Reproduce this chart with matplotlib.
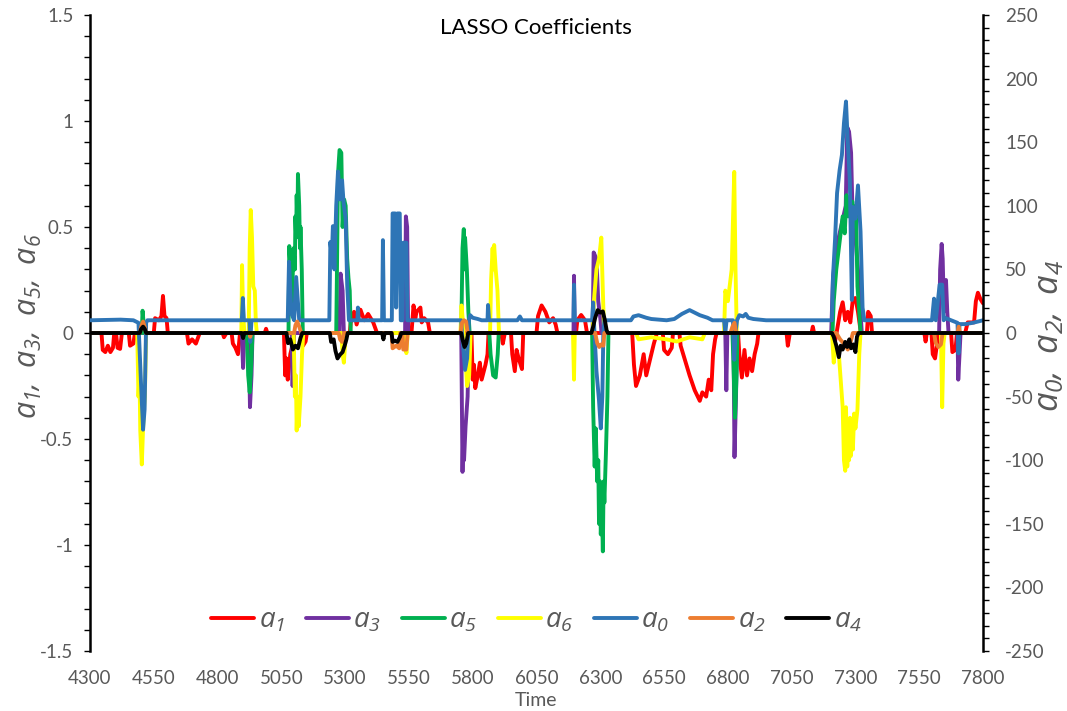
"""
LASSO coefficients over time, two y axes (Excel style)
"""

import matplotlib
matplotlib.use("Agg")
import matplotlib.pyplot as plt
from matplotlib.ticker import MultipleLocator, FuncFormatter

plt.rcParams["font.family"] = ["Lato", "DejaVu Sans"]
plt.rcParams["mathtext.fontset"] = "custom"
plt.rcParams["mathtext.it"] = "Open Sans:italic"
plt.rcParams["mathtext.rm"] = "Open Sans:italic"

GREY = "#595959"

# (time, value); left axis series
A1 = [(4300, 0), (4345, 0), (4350, -0.08), (4360, -0.09), (4370, -0.06), (4380, -0.09),
      (4390, -0.07), (4395, 0), (4402, 0), (4408, -0.07), (4418, -0.075), (4425, 0),
      (4452, 0), (4457, -0.06), (4470, -0.05), (4476, 0), (4550, 0), (4555, 0.07),
      (4570, 0.06), (4580, 0.08), (4586, 0.175), (4592, 0.08), (4600, 0.07), (4605, 0),
      (4680, 0), (4686, -0.05), (4700, -0.03), (4715, -0.05), (4730, 0), (4820, 0),
      (4825, -0.02), (4835, 0), (4855, 0), (4860, -0.05), (4870, -0.07), (4880, -0.1),
      (4888, 0), (4985, 0), (4990, 0.02), (4995, 0), (5060, 0), (5065, -0.2),
      (5070, -0.12), (5075, -0.22), (5085, -0.1), (5095, -0.05), (5100, 0), (5130, 0),
      (5135, -0.06), (5145, -0.04), (5150, 0), (5318, 0), (5322, 0.05), (5335, 0.1),
      (5345, 0.04), (5360, 0.11), (5375, 0.06), (5390, 0.09), (5410, 0.05), (5425, 0),
      (5560, 0), (5568, 0.13), (5575, 0.07), (5580, 0.1), (5595, 0.12), (5600, 0.05),
      (5610, 0.07), (5625, 0.05), (5632, 0), (5795, 0), (5800, -0.22), (5805, -0.15),
      (5810, -0.26), (5820, -0.2), (5828, -0.14), (5835, -0.22), (5850, -0.15),
      (5858, -0.1), (5862, 0), (5912, 0), (5918, -0.05), (5926, 0), (5950, 0),
      (5955, -0.1), (5965, -0.18), (5972, -0.08), (5980, -0.12), (5993, -0.17),
      (5998, 0), (6050, 0), (6056, 0.08), (6070, 0.13), (6085, 0.1), (6100, 0.05),
      (6115, 0.07), (6125, 0.04), (6132, 0), (6205, 0), (6210, 0.06), (6225, 0.085),
      (6240, 0.06), (6248, 0), (6425, 0), (6432, -0.15), (6440, -0.25), (6455, -0.2),
      (6470, -0.1), (6480, -0.2), (6490, -0.15), (6510, -0.05), (6522, 0), (6545, 0),
      (6550, -0.08), (6565, -0.1), (6580, -0.07), (6585, 0), (6610, 0), (6615, -0.06),
      (6630, -0.12), (6650, -0.2), (6670, -0.27), (6690, -0.32), (6700, -0.28),
      (6715, -0.3), (6725, -0.22), (6735, -0.27), (6742, -0.1), (6750, -0.03),
      (6756, 0), (6840, 0), (6845, -0.1), (6855, -0.21), (6865, -0.08), (6875, -0.2),
      (6885, -0.12), (6895, -0.18), (6905, -0.1), (6915, -0.05), (6920, 0), (7030, 0),
      (7035, -0.06), (7043, 0), (7128, 0), (7133, 0.03), (7138, 0), (7212, 0),
      (7220, -0.04), (7226, 0), (7240, 0.1), (7250, 0.145), (7260, 0.06), (7270, 0.1),
      (7280, 0.05), (7290, 0.16), (7300, 0.165), (7310, 0.1), (7318, 0.03), (7322, 0),
      (7345, 0), (7350, 0.1), (7360, 0.08), (7365, 0), (7570, 0), (7575, -0.04),
      (7580, 0), (7598, 0), (7603, -0.1), (7612, -0.12), (7620, -0.05), (7625, 0),
      (7675, 0), (7680, -0.09), (7692, -0.08), (7698, 0), (7730, 0), (7740, 0.05),
      (7765, 0.05), (7772, 0.15), (7780, 0.19), (7790, 0.16), (7800, 0.14)]

A3 = [(4300, 0), (4895, 0), (4900, -0.165), (4905, 0), (4922, 0), (4927, -0.35),
      (4933, -0.2), (4937, 0), (5090, 0), (5094, -0.25), (5100, 0), (5278, 0),
      (5282, 0.28), (5290, 0.2), (5295, 0), (5535, 0), (5538, 0.55), (5543, 0.5),
      (5547, 0), (5755, 0), (5760, -0.655), (5763, -0.45), (5766, -0.6), (5772, -0.44),
      (5780, -0.3), (5785, 0), (6195, 0), (6197, 0.27), (6200, 0), (6270, 0),
      (6274, 0.38), (6285, 0.35), (6292, 0.15), (6300, 0.07), (6305, 0), (6790, 0),
      (6794, -0.27), (6798, 0), (6822, 0), (6826, -0.585), (6832, -0.3), (6836, 0),
      (7205, 0), (7212, 0.26), (7225, 0.4), (7262, 0.6), (7268, 0.97), (7275, 0.95),
      (7283, 0.85), (7290, 0.5), (7300, 0.45), (7310, 0.3), (7320, 0.1), (7325, 0),
      (7628, 0), (7632, 0.3), (7638, 0.42), (7642, 0.35), (7647, 0.1), (7655, 0.25),
      (7660, 0.1), (7665, 0), (7700, 0), (7703, -0.22), (7708, -0.1), (7712, 0),
      (7800, 0)]

A5 = [(4300, 0), (4503, 0), (4506, 0.105), (4510, 0.05), (4513, 0), (4915, 0),
      (4920, -0.2), (4926, -0.28), (4932, -0.15), (4937, 0), (5078, 0), (5081, 0.41),
      (5086, 0.3), (5090, 0.1), (5098, 0.4), (5103, 0.3), (5105, 0.55), (5108, 0.45),
      (5110, 0.65), (5113, 0.5), (5115, 0.75), (5120, 0.6), (5123, 0.4), (5125, 0.5),
      (5130, 0.3), (5134, 0), (5265, 0), (5268, 0.3), (5272, 0.75), (5278, 0.863),
      (5285, 0.85), (5290, 0.5), (5296, 0.63), (5302, 0.6), (5308, 0.35), (5313, 0.26),
      (5318, 0.2), (5322, 0), (5755, 0), (5760, 0.4), (5765, 0.49), (5768, 0.3),
      (5770, 0.45), (5777, 0.3), (5783, 0.1), (5788, 0), (5865, 0), (5870, -0.1),
      (5880, -0.2), (5890, -0.21), (5898, -0.1), (5902, 0), (6268, 0), (6272, -0.35),
      (6278, -0.63), (6282, -0.45), (6288, -0.7), (6292, -0.6), (6295, -0.9),
      (6299, -0.7), (6302, -0.95), (6306, -0.8), (6310, -1.03), (6313, -0.7),
      (6316, -0.8), (6322, -0.57), (6328, -0.3), (6332, 0), (6818, 0), (6822, -0.15),
      (6828, -0.4), (6834, -0.2), (6838, 0), (7210, 0), (7215, 0.15), (7225, 0.3),
      (7240, 0.45), (7250, 0.55), (7258, 0.47), (7265, 0.65), (7272, 0.55),
      (7280, 0.6), (7288, 0.62), (7295, 0.5), (7302, 0.6), (7308, 0.22), (7315, 0.1),
      (7320, 0), (7800, 0)]

A6 = [(4300, 0), (4485, 0), (4490, -0.3), (4494, -0.2), (4497, -0.46), (4503, -0.62),
      (4508, -0.45), (4512, -0.35), (4515, -0.3), (4520, 0), (4893, 0), (4896, 0.32),
      (4900, 0.1), (4905, 0), (4922, 0), (4926, 0.4), (4930, 0.58), (4935, 0.45),
      (4940, 0.22), (4946, 0.2), (4950, 0.05), (4954, 0), (5098, 0), (5103, -0.3),
      (5107, -0.2), (5110, -0.46), (5114, -0.3), (5118, -0.44), (5125, -0.3),
      (5131, -0.1), (5136, 0), (5285, 0), (5290, -0.1), (5295, -0.14), (5300, -0.05),
      (5305, 0), (5535, 0), (5540, -0.095), (5545, 0), (5752, 0), (5756, 0.13),
      (5762, 0.05), (5770, -0.1), (5778, -0.25), (5786, -0.2), (5792, 0), (5868, 0),
      (5872, 0.25), (5878, 0.4), (5881, 0.3), (5884, 0.415), (5890, 0.3), (5897, 0.2),
      (5903, 0), (6193, 0), (6197, -0.22), (6200, 0), (6270, 0), (6275, 0.15),
      (6285, 0.3), (6295, 0.35), (6304, 0.45), (6310, 0.2), (6315, 0), (6440, 0),
      (6450, -0.03), (6500, -0.02), (6560, -0.03), (6600, -0.04), (6650, -0.02),
      (6700, -0.03), (6710, 0), (6785, 0), (6790, 0.2), (6800, 0.15), (6815, 0.3),
      (6825, 0.76), (6830, 0.3), (6835, 0), (7208, 0), (7215, -0.14), (7222, -0.05),
      (7235, -0.1), (7250, -0.35), (7255, -0.6), (7260, -0.65), (7263, -0.35),
      (7268, -0.63), (7272, -0.45), (7275, -0.6), (7279, -0.4), (7282, -0.58),
      (7286, -0.42), (7290, -0.55), (7295, -0.38), (7300, -0.45), (7308, -0.36),
      (7315, -0.1), (7320, 0), (7635, 0), (7640, -0.35), (7645, -0.05), (7650, 0),
      (7800, 0)]

# right axis series
A0 = [(4300, 10), (4420, 10.5), (4470, 10), (4490, 8), (4500, -40), (4508, -76),
      (4514, -60), (4520, 8), (4525, 10), (4895, 10), (4899, 27.5), (4903, 10),
      (4925, 10), (4928, -7), (4933, 10), (5075, 10), (5080, 56), (5086, 30),
      (5090, 15), (5100, 10), (5108, 44), (5113, 30), (5120, 10), (5238, 10),
      (5242, 71.5), (5248, 60), (5252, 84), (5258, 50), (5265, 100), (5272, 127),
      (5280, 105), (5288, 120), (5294, 102), (5302, 90), (5308, 38), (5315, 10),
      (5348, 10), (5350, 20), (5353, 10), (5445, 10), (5448, 73), (5452, 10),
      (5483, 10), (5486, 94), (5496, 94), (5500, 20), (5505, 94), (5514, 94),
      (5518, 10), (5525, 10), (5528, 71), (5540, 71), (5544, 10), (5755, 10),
      (5758, 0), (5762, -10), (5770, -29), (5778, -20), (5785, 10), (5790, 14),
      (5800, 12), (5820, 11), (5835, 10), (5858, 10), (5860, 22), (5864, 10),
      (5975, 10), (5985, 13), (5993, 10), (6195, 10), (6197, 38), (6200, 10),
      (6268, 10), (6272, 24), (6276, 5), (6285, -30), (6295, -53), (6302, -75),
      (6308, -50), (6312, 0), (6316, 10), (6420, 10), (6430, 13), (6450, 14),
      (6480, 12), (6500, 11), (6560, 10), (6590, 11), (6620, 15), (6650, 18),
      (6670, 16), (6690, 14), (6720, 12), (6740, 10), (6785, 10), (6790, 0),
      (6795, 10), (6820, 10), (6825, -21), (6830, 0), (6836, 10), (6845, 14),
      (6860, 13), (6870, 15), (6880, 12), (6900, 11), (6950, 10), (7208, 10),
      (7212, 44), (7220, 73), (7228, 110), (7238, 128), (7247, 140), (7255, 165),
      (7263, 182), (7270, 150), (7278, 120), (7286, 26), (7290, 99), (7300, 90),
      (7310, 116), (7320, 80), (7328, 20), (7335, 10), (7600, 10), (7608, 27),
      (7615, 10), (7630, 38), (7640, 38), (7646, 10), (7650, 12), (7700, 8),
      (7704, -16), (7708, 7), (7730, 7), (7760, 8), (7800, 10)]

A2 = [(4300, 0), (4495, 0), (4502, 6), (4508, 9), (4514, 5), (4520, 0), (4925, 0),
      (4928, -3), (4932, 0), (5100, 0), (5105, 6), (5112, 9), (5120, 5), (5128, 0),
      (5275, 0), (5280, -5), (5288, -7), (5295, 0), (5482, 0), (5486, -12),
      (5500, -10), (5512, -12), (5516, 0), (5525, 0), (5528, -13), (5540, -13),
      (5545, 0), (5752, 0), (5758, 8), (5766, 10), (5774, 9), (5780, 0), (6280, 0),
      (6288, -8), (6296, -11), (6304, -9), (6312, -10), (6316, 0), (6810, 0),
      (6818, 5), (6826, 8), (6832, 0), (7225, 0), (7240, -5), (7262, -10),
      (7270, -13), (7280, -8), (7290, 0), (7608, 0), (7615, -8), (7625, -11),
      (7635, -9), (7642, 0), (7700, 0), (7705, 5), (7710, 0), (7800, 0)]

A4 = [(4300, 0), (4495, 0), (4500, 3), (4508, 5), (4515, 3), (4520, 0), (4895, 0),
      (4900, -4), (4905, 0), (5070, 0), (5076, -8), (5085, -5), (5095, -13),
      (5105, -10), (5115, -12), (5125, -4), (5132, 0), (5240, 0), (5245, -7),
      (5255, -5), (5262, -14), (5270, -20), (5280, -17), (5290, -15), (5298, -10),
      (5305, -5), (5310, 0), (5445, 0), (5450, -5), (5455, 0), (5482, 0), (5486, -7),
      (5495, -6), (5505, -7), (5515, -3), (5520, 0), (5755, 0), (5760, -5),
      (5768, -11), (5775, -8), (5782, 0), (6265, 0), (6272, 5), (6280, 12),
      (6290, 18), (6300, 16), (6310, 17), (6318, 10), (6325, 2), (6330, 0),
      (7208, 0), (7215, -3), (7225, -10), (7235, -19), (7242, -10), (7250, -13),
      (7260, -7), (7268, -11), (7276, -5), (7283, -12), (7292, -9), (7300, -15),
      (7306, -3), (7312, 0), (7800, 0)]

LEFT_SERIES = [("a_1", A1, "#FF0000"), ("a_3", A3, "#7030A0"),
               ("a_5", A5, "#00B050"), ("a_6", A6, "#FFFF00")]
RIGHT_SERIES = [("a_0", A0, "#2E75B6"), ("a_2", A2, "#ED7D31"),
                ("a_4", A4, "#000000")]

X_TICKS = list(range(4300, 7801, 250))


def draw(ax, series):
    handles = []
    for name, pts, color in series:
        t = [p[0] for p in pts]
        v = [p[1] for p in pts]
        h, = ax.plot(t, v, color=color, lw=2.8, label=r"$\mathit{%s}$" % name,
                     solid_joinstyle="round", solid_capstyle="round")
        handles.append(h)
    return handles


def style_y(ax, side):
    ax.tick_params(axis="y", which="both", direction="out", length=4, width=1,
                   colors="black", labelcolor=GREY, labelsize=13.5, pad=8)
    for s in ["top", "bottom", "left", "right"]:
        ax.spines[s].set_visible(s == side)
    ax.spines[side].set_linewidth(1.8)
    # plain hyphen as minus, like the source
    ax.yaxis.set_major_formatter(FuncFormatter(lambda v, p: f"{v:g}"))


fig = plt.figure(figsize=(10.67, 7.11), dpi=100)
ax = fig.add_axes([90 / 1067, 60 / 711, 893 / 1067, 636 / 711])
ax2 = ax.twinx()

h1 = draw(ax, LEFT_SERIES)
h2 = draw(ax2, RIGHT_SERIES)

ax.set_xlim(4300, 7800)
ax.set_ylim(-1.5, 1.5)
ax2.set_ylim(-250, 250)

ax.set_xticks(X_TICKS)
ax.tick_params(axis="x", length=0, labelsize=13.5, labelcolor=GREY, pad=14)

ax.yaxis.set_major_locator(MultipleLocator(0.5))
ax.yaxis.set_minor_locator(MultipleLocator(0.1))
ax2.yaxis.set_major_locator(MultipleLocator(50))
ax2.yaxis.set_minor_locator(MultipleLocator(10))
style_y(ax, "left")
style_y(ax2, "right")
ax2.tick_params(axis="y", pad=12)

fig.text(536 / 1067, 1 - 28 / 711, "LASSO Coefficients", ha="center", va="center",
         fontsize=16, color="black")
fig.text(536 / 1067, 1 - 700 / 711, "Time", ha="center", va="center",
         fontsize=14, color=GREY)
fig.text(30 / 1067, 1 - 326 / 711, r"$\mathit{a_1,\ a_3,\ a_5,\ a_6}$",
         rotation=90, ha="center", va="center", fontsize=22, color=GREY)
fig.text(1050 / 1067, 1 - 336 / 711, r"$\mathit{a_0,\ a_2,\ a_4}$",
         rotation=90, ha="center", va="center", fontsize=25, color=GREY)

leg = ax2.legend(h1 + h2, [h.get_label() for h in h1 + h2], loc="lower center",
                 bbox_to_anchor=(0.5, 0.0), ncol=7, frameon=False, fontsize=20,
                 handlelength=1.55, columnspacing=0.75, handletextpad=0.15,
                 labelcolor=GREY, borderaxespad=0.2)

fig.savefig("out.png", dpi=100)
